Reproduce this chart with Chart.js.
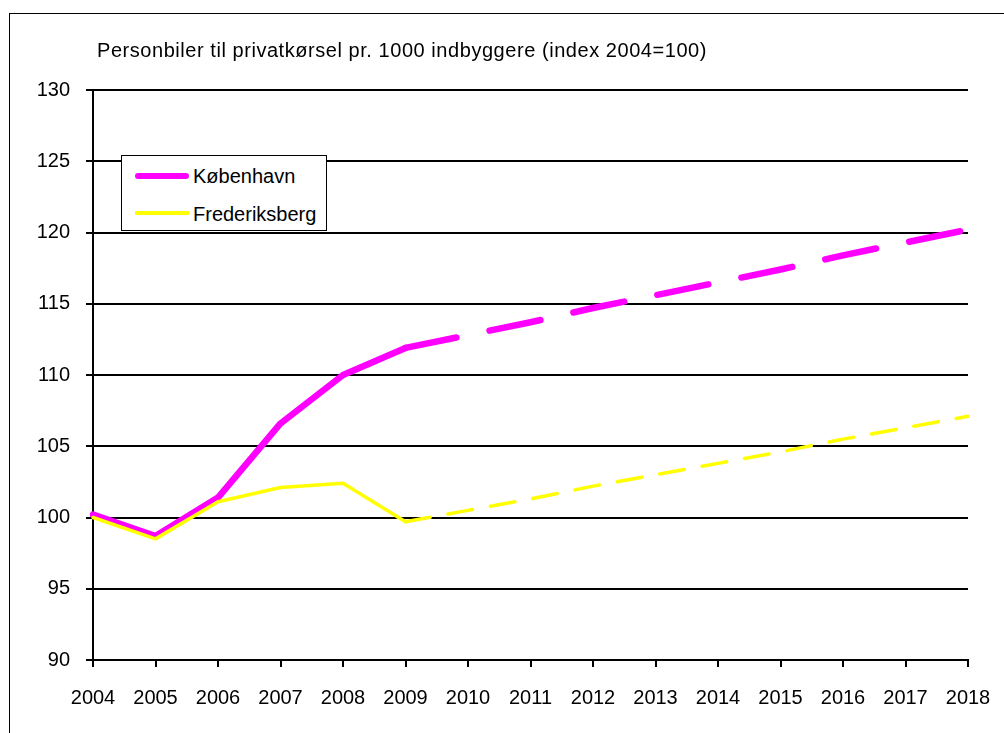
<!DOCTYPE html>
<html>
<head>
<meta charset="utf-8">
<script src="https://cdn.jsdelivr.net/npm/chart.js@4.4.1/dist/chart.umd.min.js"></script>
<style>
  html, body { margin: 0; padding: 0; overflow: hidden; background: #fff; }
  #wrap { position: relative; width: 1004px; height: 733px; font-family: "Liberation Sans", Arial, sans-serif; color: #000; }
  #frame { position: absolute; left: 9px; top: 13px; width: 1100px; height: 800px; border-left: 1.5px solid #000; border-top: 1.5px solid #000; }
  canvas { position: absolute; left: 0; top: 0; }
  #title { position: absolute; left: 97px; top: 39px; font-size: 20px; letter-spacing: 0.55px; line-height: 23px; white-space: nowrap; }
  #legend { position: absolute; left: 121px; top: 155px; width: 204px; height: 74px; border: 1.5px solid #000; background: #fff; }
  .sw { position: absolute; left: 13px; width: 54px; }
  .lt { position: absolute; left: 71px; font-size: 20px; line-height: 23px; white-space: nowrap; }
</style>
</head>
<body>
<div id="wrap">
  <div id="frame"></div>
  <canvas id="c" width="1004" height="733"></canvas>
  <div id="title">Personbiler til privatkørsel pr. 1000 indbyggere (index 2004=100)</div>
  <div id="legend">
    <div class="sw" id="sw1" style="top:16.5px;height:6.5px;border-radius:3.25px;"></div>
    <div class="lt" id="lt1" style="top:9px;"></div>
    <div class="sw" id="sw2" style="top:55px;height:3.5px;"></div>
    <div class="lt" id="lt2" style="top:47px;"></div>
  </div>
</div>
<script>
const years = ["2004","2005","2006","2007","2008","2009","2010","2011","2012","2013","2014","2015","2016","2017","2018"];
const seriesNames = ["København", "Frederiksberg"];
const koebenhavn = [100.2, 98.7, 101.4, 106.6, 110.0, 111.9, 112.8, 113.7, 114.7, 115.6, 116.5, 117.4, 118.4, 119.3, 120.2];
const frederiksberg = [100.0, 98.5, 101.1, 102.1, 102.4, 99.7, 100.5, 101.3, 102.2, 103.0, 103.8, 104.6, 105.5, 106.3, 107.1];
const yTicks = [90, 95, 100, 105, 110, 115, 120, 125, 130];
const forecastFromIndex = 5; // segments after 2009 are dashed

const colors = ["#FF00FF", "#FFFF00"];
document.getElementById("sw1").style.background = colors[0];
document.getElementById("sw2").style.background = colors[1];
document.getElementById("lt1").textContent = seriesNames[0];
document.getElementById("lt2").textContent = seriesNames[1];

const FONT = '"Liberation Sans", Arial, sans-serif';

new Chart(document.getElementById("c"), {
  type: "line",
  data: {
    labels: years,
    datasets: [
      {
        label: seriesNames[1],
        data: frederiksberg,
        borderColor: colors[1],
        borderWidth: 3.5,
        borderCapStyle: "round",
        borderJoinStyle: "round",
        pointRadius: 0,
        tension: 0,
        segment: { borderDash: ctx => ctx.p0DataIndex >= forecastFromIndex ? [25, 18.1] : undefined }
      },
      {
        label: seriesNames[0],
        data: koebenhavn,
        borderColor: colors[0],
        borderWidth: 6.5,
        borderCapStyle: "round",
        borderJoinStyle: "round",
        pointRadius: 0,
        tension: 0,
        segment: { borderDash: ctx => ctx.p0DataIndex >= forecastFromIndex ? [52, 33.8] : undefined }
      }
    ]
  },
  options: {
    responsive: false,
    animation: false,
    events: [],
    layout: { padding: { top: 90, right: 36, left: 0, bottom: 0 } },
    plugins: { legend: { display: false }, title: { display: false }, tooltip: { enabled: false } },
    scales: {
      x: {
        type: "category",
        offset: false,
        grid: { display: true, drawOnChartArea: false, drawTicks: true, tickLength: 7, color: "#000", lineWidth: 2 },
        border: { display: true, color: "#000", width: 2 },
        ticks: { color: "#000", font: { family: FONT, size: 20 }, padding: 19, maxRotation: 0, minRotation: 0, autoSkip: false },
        afterFit: s => { s.height = 73; s.paddingLeft = 0; s.paddingRight = 0; }
      },
      y: {
        min: yTicks[0],
        max: yTicks[yTicks.length - 1],
        afterBuildTicks: s => { s.ticks = yTicks.map(v => ({ value: v })); },
        grid: { display: true, drawTicks: true, tickLength: 7, color: "#000", lineWidth: 2 },
        border: { display: true, color: "#000", width: 2 },
        ticks: { color: "#000", font: { family: FONT, size: 20 }, padding: 16 },
        afterFit: s => { s.width = 93; s.paddingTop = 0; s.paddingBottom = 0; }
      }
    }
  }
});
</script>
</body>
</html>
